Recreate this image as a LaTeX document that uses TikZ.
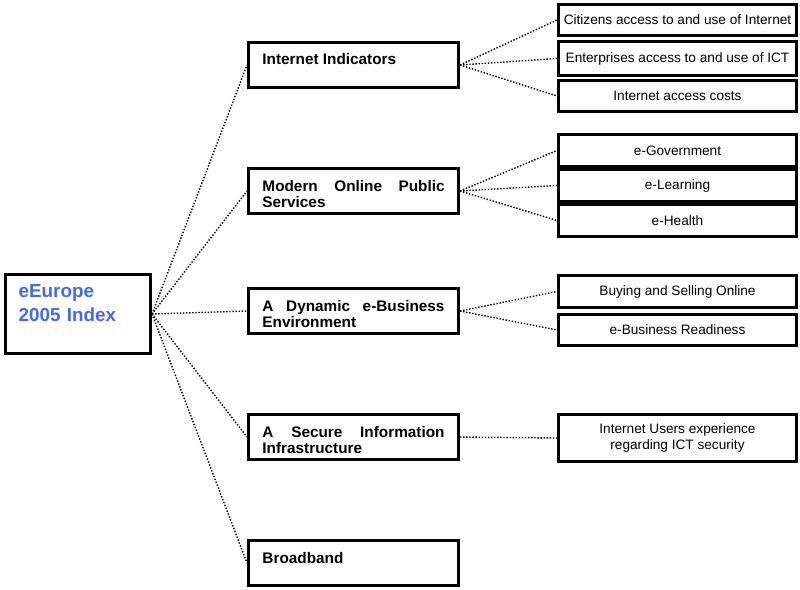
\documentclass[tikz,border=0pt]{standalone}
\usepackage{fontspec}
\setmainfont{Liberation Sans}
\usetikzlibrary{positioning}
\definecolor{indexblue}{RGB}{66,105,240}
\tikzset{
    box/.style =    {
                        rectangle, draw=black, line width=2.4pt, inner ysep=0pt
                    },
    root/.style = {box, text width=2.965cm, inner xsep=0.325cm,
                   text height=0.5825cm, text depth=1.3825cm, align=left,
                   font=\fontsize{13.4}{17}\selectfont\bfseries, text=indexblue},
    area/.style = {box, text width=4.55cm, inner xsep=0.345cm,
                   text height=0.5575cm, text depth=0.5575cm, align=justify,
                   font=\fontsize{10.9}{11.8}\selectfont\bfseries},
    item/.style = {box, minimum width=5.94cm, inner xsep=0pt, align=center,
                   font=\fontsize{9.7}{11.4}\selectfont},
    link/.style = {line width=1pt, dash pattern=on 1pt off 1.2pt}
}
\begin{document}
\begin{tikzpicture}[x=0.025cm, y=-0.025cm, node distance=1.95cm]
    \useasboundingbox (0,0) rectangle (800,590);

    \node (index)       [root] at (78,314)             {eEurope\\2005 Index};

    \node (internet)    [area] at (353.5,65)           {Internet Indicators};
    \node (public)      [area, below=of internet]      {Modern Online Public\linebreak Services};
    \node (business)    [area, below=1.8cm of public]  {A Dynamic e-Business\linebreak Environment};
    \node (security)    [area, below=of business]      {A Secure Information\linebreak Infrastructure};
    \node (broadband)   [area, below=of security]      {Broadband};

    \node (citizens)    [item, minimum height=0.79cm] at (677.5,20)                  {Citizens access to and use of Internet};
    \node (enterprises) [item, minimum height=0.84cm, below=0.0625cm of citizens]   {Enterprises access to and use of ICT};
    \node (costs)       [item, minimum height=0.765cm, below=0.05cm of enterprises] {Internet access costs};

    \node (egov)        [item, minimum height=0.79cm] at (677.5,150.5)  {e-Government};
    \node (elearning)   [item, minimum height=0.79cm, below=0pt of egov]      {e-Learning};
    \node (ehealth)     [item, minimum height=0.79cm, below=0pt of elearning] {e-Health};

    \node (trading)     [item, minimum height=0.79cm] at (677.5,291.5)  {Buying and Selling Online};
    \node (readiness)   [item, minimum height=0.765cm, below=0.1cm of trading] {e-Business Readiness};

    \node (experience)  [item, minimum height=1.165cm] at (677.5,438) {Internet Users experience\\regarding ICT security};

    \draw[link]         (index.east) -- (internet.west);
    \draw[link]         (index.east) -- (public.west);
    \draw[link]         (index.east) -- (business.west);
    \draw[link]         (index.east) -- (security.west);
    \draw[link]         (index.east) -- (broadband.west);

    \draw[link]         (internet.east) -- (citizens.west);
    \draw[link]         (internet.east) -- (enterprises.west);
    \draw[link]         (internet.east) -- (costs.west);

    \draw[link]         (public.east) -- (egov.west);
    \draw[link]         (public.east) -- (elearning.west);
    \draw[link]         (public.east) -- (ehealth.west);

    \draw[link]         (business.east) -- (trading.west);
    \draw[link]         (business.east) -- (readiness.west);

    \draw[link]         (security.east) -- (experience.west);
\end{tikzpicture}
\end{document}
